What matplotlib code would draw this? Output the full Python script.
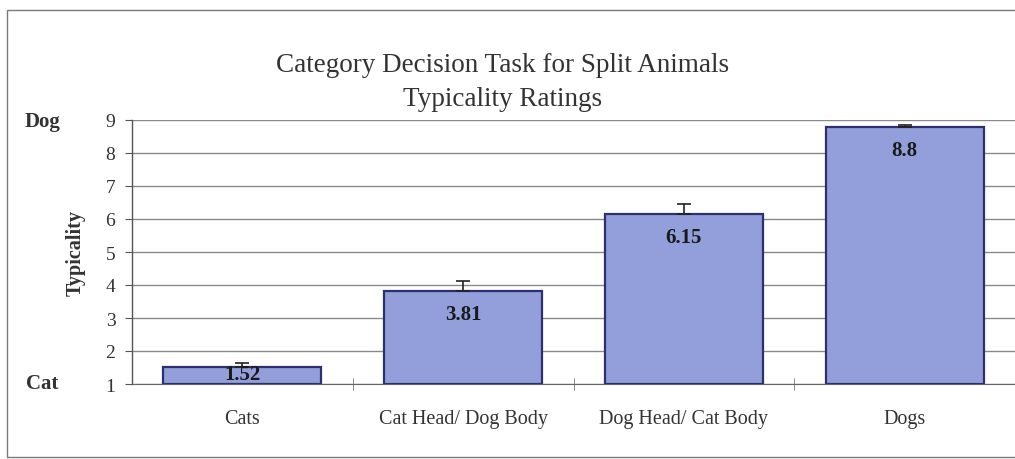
import matplotlib
matplotlib.use("Agg")
import matplotlib.pyplot as plt
from matplotlib.patches import Rectangle

categories = ["Cats", "Cat Head/ Dog Body", "Dog Head/ Cat Body", "Dogs"]
means = [1.52, 3.81, 6.15, 8.8]
errors = [0.12, 0.30, 0.29, 0.04]
labels = ["1.52", "3.81", "6.15", "8.8"]
yticks = [1, 2, 3, 4, 5, 6, 7, 8, 9]

plt.rcParams['font.family'] = ['Liberation Serif', 'DejaVu Serif']

fig = plt.figure(figsize=(10.15, 4.6), dpi=100)
ax = fig.add_axes([132 / 1015, 1 - 385 / 460, 1 - 132 / 1015, (385 - 121) / 460])

# outer chart frame (right edge falls outside the picture)
fig.add_artist(Rectangle((7 / 1015, 2 / 460), 1.2, 447 / 460, transform=fig.transFigure,
                         fill=False, edgecolor='#7a7a7a', linewidth=1.0))

x = list(range(len(categories)))
ax.bar(x, [m - 1 for m in means], bottom=1, width=0.715, color='#929fdb',
       edgecolor='#2c306c', linewidth=1.6, zorder=3)
ax.errorbar(x, means, yerr=[[0] * len(errors), errors], fmt='none', ecolor='#222222',
            elinewidth=1.2, capsize=5, capthick=1.2, zorder=4)

for xi, m, lab in zip(x, means, labels):
    ypos = max(m - 0.7, 1.3)
    ax.text(xi, ypos, lab, ha='center', va='center', fontsize=15, fontweight='bold',
            color='#1a1a1a', zorder=5)

ax.set_xlim(-0.5, len(categories) - 0.5)
ax.set_ylim(1, 9)
ax.set_yticks(yticks)
ax.set_yticklabels([str(t) for t in yticks], fontsize=14, color='#333333')
ax.set_xticks(x)
ax.set_xticklabels(categories, fontsize=14.5, color='#333333')
ax.tick_params(axis='x', length=0, pad=18)
ax.set_xticks([i + 0.5 for i in x[:-1]], minor=True)
ax.tick_params(axis='x', which='minor', direction='inout', length=9, color='#777777')
ax.tick_params(axis='y', direction='out', length=5, color='#555555', pad=7)

ax.yaxis.grid(True, color='#8a8a8a', linewidth=1.0)
ax.set_axisbelow(True)
for s in ['top', 'right']:
    ax.spines[s].set_visible(False)
ax.spines['left'].set_color('#555555')
ax.spines['bottom'].set_color('#666666')
ax.spines['left'].set_linewidth(1.0)

ax.set_ylabel("Typicality", fontsize=14.5, fontweight='bold', color='#333333', labelpad=14)

fig.text(43 / 1015, 1 - 122 / 460, "Dog", ha='center', va='center', fontsize=15,
         fontweight='bold', color='#333333')
fig.text(42 / 1015, 1 - 384 / 460, "Cat", ha='center', va='center', fontsize=15,
         fontweight='bold', color='#333333')

fig.text(503 / 1015, 1 - 72 / 460, "Category Decision Task for Split Animals", ha='center',
         va='baseline', fontsize=19.5, color='#333333')
fig.text(503 / 1015, 1 - 106 / 460, "Typicality Ratings", ha='center', va='baseline',
         fontsize=19.5, color='#333333')

fig.savefig("out.png", dpi=100)
